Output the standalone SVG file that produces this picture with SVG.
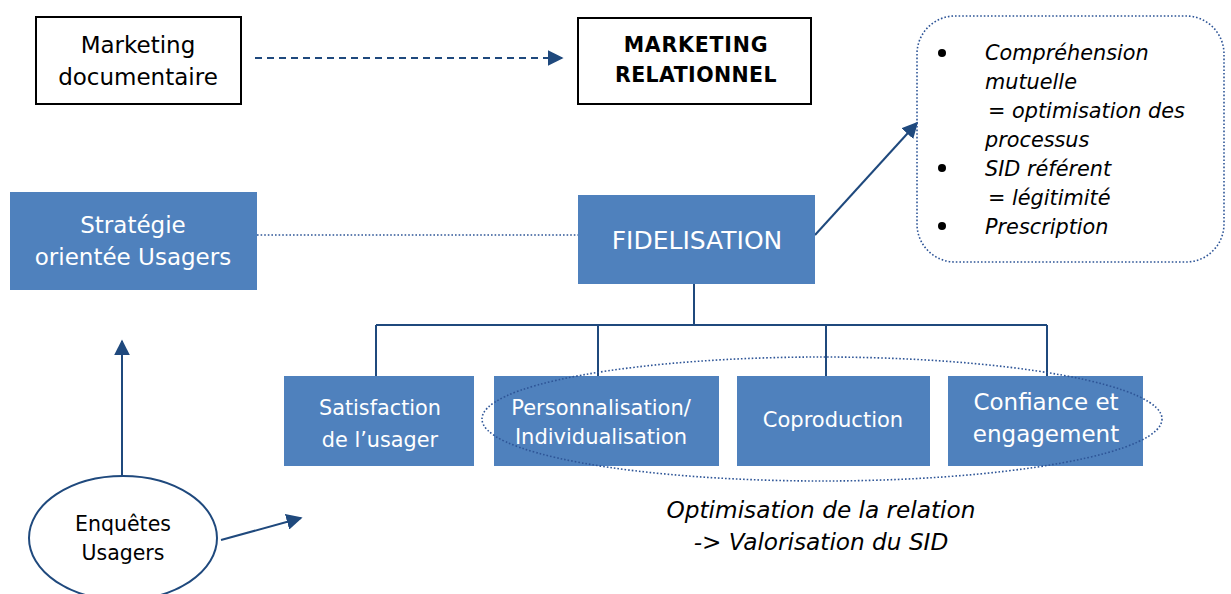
<svg xmlns="http://www.w3.org/2000/svg" width="1231" height="594" viewBox="0 0 1231 594">
  <style>
    .t { font-family: "DejaVu Sans", "Liberation Sans", sans-serif; }
    .wbox { fill: #ffffff; stroke: #000000; stroke-width: 2; }
    .bbox { fill: #4F81BD; }
    .wt { fill: #ffffff; text-anchor: middle; }
    .bt { fill: #000000; text-anchor: middle; }
    .it { font-style: italic; fill: #000000; }
    .ln { stroke: #1F497D; stroke-width: 2; fill: none; }
    .dot { stroke: #2E5597; stroke-width: 1.6; fill: none; stroke-dasharray: 1.6 2; }
  </style>
  <defs>
    <marker id="arrL" viewBox="0 0 10 10" refX="9" refY="5" markerWidth="16" markerHeight="16" markerUnits="userSpaceOnUse" orient="auto">
      <path d="M0,0 L10,5 L0,10 z" fill="#1F497D"/>
    </marker>
  </defs>

  <g id="connectors">
    <!-- documentaire -> relationnel (dashed) -->
    <line x1="255" y1="58" x2="562" y2="58" stroke="#1F497D" stroke-width="2" stroke-dasharray="7 5" marker-end="url(#arrL)"/>
    <!-- strategy to fidelisation (dotted) -->
    <line x1="257" y1="235" x2="578" y2="235" class="dot"/>
    <!-- fidelisation -> benefits -->
    <line x1="815" y1="235" x2="917" y2="123" class="ln" marker-end="url(#arrL)"/>
    <!-- tree under fidelisation -->
    <path class="ln" d="M694,284 V325 M376,325 H1047 M376,325 V376 M598,325 V376 M826,325 V376 M1047,325 V376"/>
    <!-- survey arrows -->
    <line x1="122" y1="476" x2="122" y2="341" class="ln" marker-end="url(#arrL)"/>
    <line x1="221" y1="540" x2="301" y2="518" class="ln" marker-end="url(#arrL)"/>
  </g>

  <g id="marketing-documentaire">
    <rect class="wbox" x="36" y="17" width="205" height="87"/>
    <text class="t bt" font-size="23" x="138" y="53">Marketing</text>
    <text class="t bt" font-size="23" x="138" y="85">documentaire</text>
  </g>

  <g id="marketing-relationnel">
    <rect class="wbox" x="578" y="18" width="233" height="86"/>
    <text class="t bt" font-size="20.5" font-weight="bold" letter-spacing="0.8" x="696" y="52">MARKETING</text>
    <text class="t bt" font-size="20.5" font-weight="bold" letter-spacing="0.4" x="696" y="82">RELATIONNEL</text>
  </g>

  <g id="benefits">
    <rect class="dot" x="917" y="16" width="307" height="246" rx="38" ry="38"/>
    <circle cx="942" cy="53" r="4" fill="#000"/>
    <circle cx="942" cy="168" r="4" fill="#000"/>
    <circle cx="942" cy="226" r="4" fill="#000"/>
    <g class="t it" font-size="20.8">
      <text x="985" y="60">Compréhension</text>
      <text x="985" y="89">mutuelle</text>
      <text x="988" y="118">= optimisation des</text>
      <text x="985" y="147">processus</text>
      <text x="985" y="176">SID référent</text>
      <text x="988" y="205">= légitimité</text>
      <text x="985" y="234">Prescription</text>
    </g>
  </g>

  <g id="strategie">
    <rect class="bbox" x="10" y="192" width="247" height="98"/>
    <text class="t wt" font-size="23" x="133" y="233">Stratégie</text>
    <text class="t wt" font-size="23" x="133" y="265">orientée Usagers</text>
  </g>

  <g id="fidelisation">
    <rect class="bbox" x="578" y="195" width="237" height="89"/>
    <text class="t wt" font-size="25" x="697" y="249">FIDELISATION</text>
  </g>

  <g id="satisfaction">
    <rect class="bbox" x="284" y="376" width="190" height="90"/>
    <text class="t wt" font-size="20.8" x="380" y="415">Satisfaction</text>
    <text class="t wt" font-size="20.8" x="380" y="447">de l’usager</text>
  </g>

  <g id="personnalisation">
    <rect class="bbox" x="494" y="376" width="225" height="90"/>
    <text class="t wt" font-size="21" x="601" y="415">Personnalisation/</text>
    <text class="t wt" font-size="21" x="601" y="444">Individualisation</text>
  </g>

  <g id="coproduction">
    <rect class="bbox" x="737" y="376" width="193" height="90"/>
    <text class="t wt" font-size="21" x="833" y="427">Coproduction</text>
  </g>

  <g id="confiance">
    <rect class="bbox" x="948" y="376" width="195" height="90"/>
    <text class="t wt" font-size="23" x="1046" y="410">Confiance et</text>
    <text class="t wt" font-size="23" x="1046" y="442">engagement</text>
  </g>

  <g id="optimisation">
    <ellipse class="dot" cx="822" cy="419" rx="340" ry="62"/>
    <text class="t it" font-size="23.2" x="821" y="518" text-anchor="middle">Optimisation de la relation</text>
    <text class="t it" font-size="23.2" x="821" y="550" text-anchor="middle">-&gt; Valorisation du SID</text>
  </g>

  <g id="enquetes">
    <ellipse cx="123" cy="538" rx="94" ry="62" fill="#ffffff" stroke="#1F497D" stroke-width="2"/>
    <text class="t bt" font-size="20.5" x="123" y="531">Enquêtes</text>
    <text class="t bt" font-size="20.5" x="123" y="560">Usagers</text>
  </g>
</svg>
